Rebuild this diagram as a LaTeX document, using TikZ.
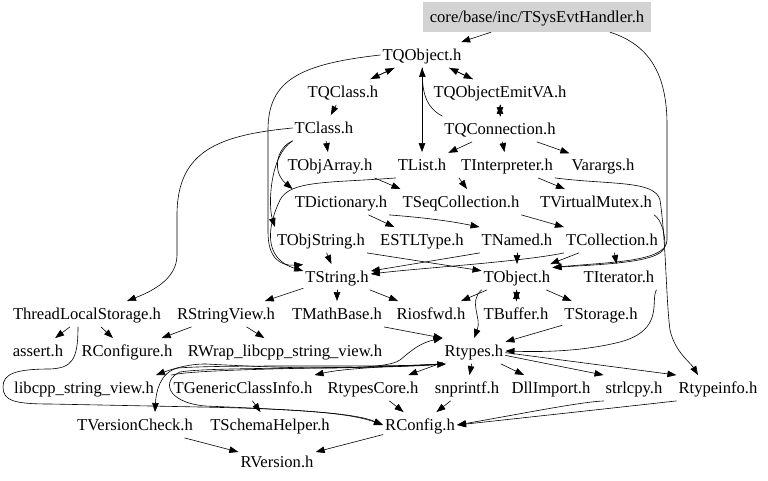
\documentclass[tikz,border=0pt]{standalone}
\usepackage{fontspec}
\setmainfont{Liberation Serif}
\usetikzlibrary{arrows.meta}
\definecolor{headgray}{RGB}{211,211,211}

\begin{document}
\begin{tikzpicture}[x=1bp,y=-1bp,>={Triangle[length=9bp,width=6.5bp]},
 line cap=round,line join=round,
 hfile/.style={inner xsep=2bp,inner ysep=5.5bp,text height=12.8bp,text depth=1.7bp,
  font=\fontsize{16.6bp}{19bp}\selectfont},
 dep/.style={->,line width=.6bp}]
 \useasboundingbox (0,0) rectangle (768,481);
 \node[hfile,fill=headgray,minimum width=228bp,minimum height=30bp] (sysevt) at (537,17) {core/base/inc/TSysEvtHandler.h};
 \node[hfile] (tqobject) at (422,55) {TQObject.h};
 \node[hfile] (tqclass) at (343,92) {TQClass.h};
 \node[hfile] (tqemit) at (500,92) {TQObjectEmitVA.h};
 \node[hfile] (tclass) at (324,128) {TClass.h};
 \node[hfile] (tqconn) at (500,129) {TQConnection.h};
 \node[hfile] (tobjarray) at (330,165) {TObjArray.h};
 \node[hfile] (tlist) at (422,165) {TList.h};
 \node[hfile] (tinterp) at (507,165) {TInterpreter.h};
 \node[hfile] (varargs) at (603,165) {Varargs.h};
 \node[hfile] (tdict) at (341,202) {TDictionary.h};
 \node[hfile] (tseqcoll) at (461,202) {TSeqCollection.h};
 \node[hfile] (tvmutex) at (596,202) {TVirtualMutex.h};
 \node[hfile] (tobjstring) at (321,240) {TObjString.h};
 \node[hfile] (estltype) at (422,240) {ESTLType.h};
 \node[hfile] (tnamed) at (517,240) {TNamed.h};
 \node[hfile] (tcoll) at (612,240) {TCollection.h};
 \node[hfile] (tstring) at (337,277) {TString.h};
 \node[hfile] (tobject) at (517,277) {TObject.h};
 \node[hfile] (titer) at (619,277) {TIterator.h};
 \node[hfile] (tls) at (87,314) {ThreadLocalStorage.h};
 \node[hfile] (rstringview) at (226,314) {RStringView.h};
 \node[hfile] (tmathbase) at (337,314) {TMathBase.h};
 \node[hfile] (riosfwd) at (431,314) {Riosfwd.h};
 \node[hfile] (tbuffer) at (516,314) {TBuffer.h};
 \node[hfile] (tstorage) at (601,314) {TStorage.h};
 \node[hfile] (assert) at (38,351) {assert.h};
 \node[hfile] (rconfigure) at (127,351) {RConfigure.h};
 \node[hfile] (rwrap) at (285,351) {RWrap\_libcpp\_string\_view.h};
 \node[hfile] (rtypes) at (474,351) {Rtypes.h};
 \node[hfile] (libcpp) at (84,388) {libcpp\_string\_view.h};
 \node[hfile] (tgeneric) at (243,388) {TGenericClassInfo.h};
 \node[hfile] (rtypescore) at (373,388) {RtypesCore.h};
 \node[hfile] (snprintf) at (467,388) {snprintf.h};
 \node[hfile] (dllimport) at (551,388) {DllImport.h};
 \node[hfile] (strlcpy) at (634,388) {strlcpy.h};
 \node[hfile] (rtypeinfo) at (718,388) {Rtypeinfo.h};
 \node[hfile] (tversion) at (135,425) {TVersionCheck.h};
 \node[hfile] (tschema) at (270,425) {TSchemaHelper.h};
 \node[hfile] (rconfig) at (420,425) {RConfig.h};
 \node[hfile] (rversion) at (277,462) {RVersion.h};

 \draw[dep] (sysevt) -- (tqobject);
 \draw[dep] ([xshift=73bp]sysevt.south) .. controls (650,45) and (667,75) .. (667,125)
  -- (667,240) .. controls (667,262) and (610,262) .. (tobject.15);
 \draw[dep] (tqobject) -- (tqclass);
 \draw[dep] (tqclass) -- (tqobject);
 \draw[dep] (tqobject) -- (tqemit);
 \draw[dep] (tqemit) -- (tqobject);
 \draw[dep] (tqobject) -- (tlist);
 \draw[dep] (tqconn.north west) .. controls (427,108) and (423,95) .. (tqobject.south);
 \draw[dep] (tqobject.west) .. controls (300,64) and (268,80) .. (268,130)
  -- (268,232) .. controls (268,258) and (280,266) .. (tstring.160);
 \draw[dep] (tqclass) -- (tclass);
 \draw[dep] (tqemit) -- (tqconn);
 \draw[dep] (tqconn) -- (tqemit);
 \draw[dep] (tclass.west) .. controls (220,135) and (177,150) .. (177,215)
  -- (177,255) .. controls (177,280) and (150,292) .. ([xshift=40bp]tls.north);
 \draw[dep] (tclass) -- (tobjarray);
 \draw[dep] (tclass.south west) .. controls (276,148) and (272,172) .. (tdict.north west);
 \draw[dep] (tclass.south west) .. controls (270,155) and (268,205) .. (tobjstring.north west);
 \draw[dep] (tqconn) -- (tlist);
 \draw[dep] (tqconn) -- (tinterp);
 \draw[dep] (tqconn) -- (varargs);
 \draw[dep] (tobjarray.south east) -- (tseqcoll.north west);
 \draw[dep] (tinterp.south west) -- (tseqcoll.65);
 \draw[dep] (tlist.south west) .. controls (330,183) and (290,180) .. (280,200)
  .. controls (268,225) and (262,258) .. (tstring.170);
 \draw[dep] (tinterp) -- (tvmutex);
 \draw[dep] (tinterp.south east) .. controls (610,185) and (655,180) .. (660,200)
  .. controls (666,240) and (666,300) .. (670,330)
  .. controls (675,352) and (690,362) .. ([xshift=-20bp]rtypeinfo.north);
 \draw[dep] (tvmutex.south east) .. controls (662,220) and (665,235) .. (665,245)
  .. controls (665,262) and (610,264) .. (tobject.15);
 \draw[dep] (tdict) -- (estltype);
 \draw[dep] (tdict.south east) .. controls (430,218) and (455,222) .. (tnamed.north west);
 \draw[dep] (tseqcoll.south east) -- (tcoll.north west);
 \draw[dep] (tobjstring) -- (tstring);
 \draw[dep] (tobjstring.south east) -- (tobject.170);
 \draw[dep] (tnamed) -- (tobject);
 \draw[dep] (tnamed.south west) -- (tstring.10);
 \draw[dep] (tcoll) -- (tobject);
 \draw[dep] (tcoll.south west) .. controls (520,262) and (420,268) .. (tstring.5);
 \draw[dep] (tcoll) -- (titer);
 \draw[dep] (tstring) -- (rstringview);
 \draw[dep] (tstring) -- (tmathbase);
 \draw[dep] (tstring) -- (riosfwd);
 \draw[dep] (tobject) -- (riosfwd);
 \draw[dep] (tobject) -- (tbuffer);
 \draw[dep] (tbuffer) -- (tobject);
 \draw[dep] (tobject) -- (tstorage);
 \draw[dep] (tobject.south west) .. controls (468,302) and (482,318) .. (rtypes.north);
 \draw[dep] (tmathbase.south east) -- (rtypes.north west);
 \draw[dep] (tstorage) -- (rtypes);
 \draw[dep] (titer.south east) .. controls (650,300) and (665,330) .. (620,342)
  .. controls (580,352) and (540,352) .. (rtypes.east);
 \draw[dep] (tls) -- (assert);
 \draw[dep] (tls) -- (rconfigure);
 \draw[dep] ([xshift=-9bp]tls.south) .. controls (78,360) and (72,368) .. (50,369)
  .. controls (15,369) and (3,374) .. (3,387) .. controls (3,401) and (15,404) .. (50,404)
  -- (200,407) .. controls (300,409) and (350,413) .. (rconfig.west);
 \draw[dep] (rstringview) -- (rconfigure);
 \draw[dep] (rstringview) -- (rwrap);
 \draw[dep] ([xshift=-80bp]rwrap.south) .. controls (190,364) and (175,368) .. (libcpp.north east);
 \draw[dep] ([xshift=-80bp]rwrap.south) .. controls (300,369) and (385,371) .. (400,360)
  .. controls (412,350) and (420,343) .. (rtypes.north west);
 \draw[dep] (rtypes.south west) .. controls (390,368) and (230,364) .. (178,368)
  .. controls (160,372) and (156,392) .. ([xshift=20bp]tversion.north);
 \draw[dep] (rtypes.south west) .. controls (390,370) and (215,366) .. (180,372)
  .. controls (162,380) and (165,402) .. (205,406) .. controls (300,410) and (355,413) .. (rconfig.west);
 \draw[dep] (rtypes.south west) .. controls (400,366) and (345,368) .. (tgeneric.north east);
 \draw[dep] (tgeneric.north west) .. controls (200,368) and (380,368) .. (rtypes.205);
 \draw[dep] (rtypes) -- (rtypescore);
 \draw[dep] (rtypes) -- (snprintf);
 \draw[dep] (rtypes) -- (dllimport);
 \draw[dep] (rtypes.-8) -- (strlcpy.north west);
 \draw[dep] (rtypes.-3) -- (rtypeinfo.north west);
 \draw[dep] (tgeneric) -- (tschema);
 \draw[dep] (rtypescore) -- (rconfig);
 \draw[dep] (snprintf) -- (rconfig);
 \draw[dep] (strlcpy.south west) .. controls (580,402) and (520,414) .. (rconfig.east);
 \draw[dep] (rtypeinfo.south west) .. controls (640,405) and (540,416) .. (rconfig.east);
 \draw[dep] (tversion) -- (rversion);
 \draw[dep] (rconfig) -- (rversion);
\end{tikzpicture}
\end{document}
